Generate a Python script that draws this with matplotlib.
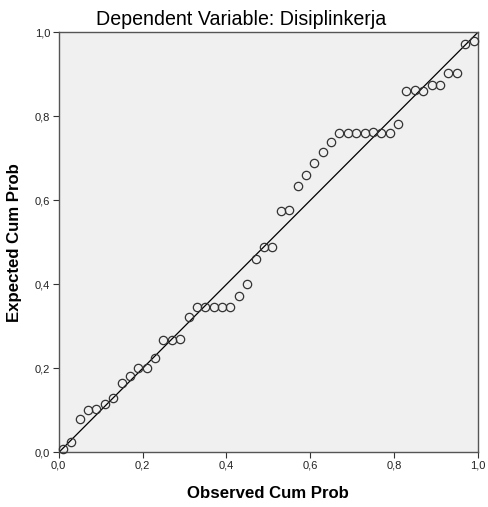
import matplotlib.pyplot as plt
import numpy as np

plt.rcParams['font.family'] = ['Liberation Sans', 'DejaVu Sans']

# observed cumulative probabilities (x) and expected (y)
observed = [0.01, 0.03, 0.05, 0.07, 0.09, 0.11, 0.13, 0.15, 0.17, 0.19,
            0.21, 0.23, 0.25, 0.27, 0.29, 0.31, 0.33, 0.35, 0.37, 0.39,
            0.41, 0.43, 0.45, 0.47, 0.49, 0.51, 0.53, 0.55, 0.57, 0.59,
            0.61, 0.63, 0.65, 0.67, 0.69, 0.71, 0.73, 0.75, 0.77, 0.79,
            0.81, 0.83, 0.85, 0.87, 0.89, 0.91, 0.93, 0.95, 0.97, 0.99]
expected = [0.009, 0.025, 0.079, 0.102, 0.104, 0.116, 0.129, 0.165, 0.181, 0.201,
            0.200, 0.225, 0.268, 0.268, 0.271, 0.322, 0.347, 0.347, 0.347, 0.347,
            0.347, 0.372, 0.401, 0.460, 0.489, 0.489, 0.575, 0.578, 0.634, 0.660,
            0.689, 0.716, 0.739, 0.760, 0.760, 0.760, 0.760, 0.763, 0.760, 0.760,
            0.783, 0.860, 0.862, 0.860, 0.876, 0.876, 0.904, 0.904, 0.973, 0.979]
tick_vals = [0.0, 0.2, 0.4, 0.6, 0.8, 1.0]
tick_labels = ['0,0', '0,2', '0,4', '0,6', '0,8', '1,0']

fig = plt.figure(figsize=(4.88, 5.07), dpi=100)
ax = fig.add_axes([0.1203, 0.1075, 0.8586, 0.8284])
ax.set_facecolor('#f0f0f0')

ax.plot([0, 1], [0, 1], color='black', linewidth=0.9, zorder=2)
ax.plot(observed, expected, linestyle='none', marker='o', markersize=6,
        markerfacecolor='none', markeredgecolor='#333333', markeredgewidth=0.9,
        zorder=3, clip_on=False)

ax.set_xlim(0, 1)
ax.set_ylim(0, 1)
ax.set_xticks(tick_vals)
ax.set_xticklabels(tick_labels)
ax.set_yticks(tick_vals)
ax.set_yticklabels(tick_labels)
ax.tick_params(direction='out', length=4, width=0.8, color='#333333',
               labelsize=8, labelcolor='#222222', pad=2)

for s in ax.spines.values():
    s.set_color('#555555')
    s.set_linewidth(1.0)

# title sits left of the axes centre in the original
fig.text(241 / 488, 1 - 25 / 507, 'Dependent Variable: Disiplinkerja',
         fontsize=14.1, ha='center', va='baseline')
ax.set_xlabel('Observed Cum Prob', fontsize=12.1, fontweight='bold', labelpad=11)
ax.set_ylabel('Expected Cum Prob', fontsize=12.1, fontweight='bold', labelpad=9)

fig.savefig('out.png', dpi=100)
